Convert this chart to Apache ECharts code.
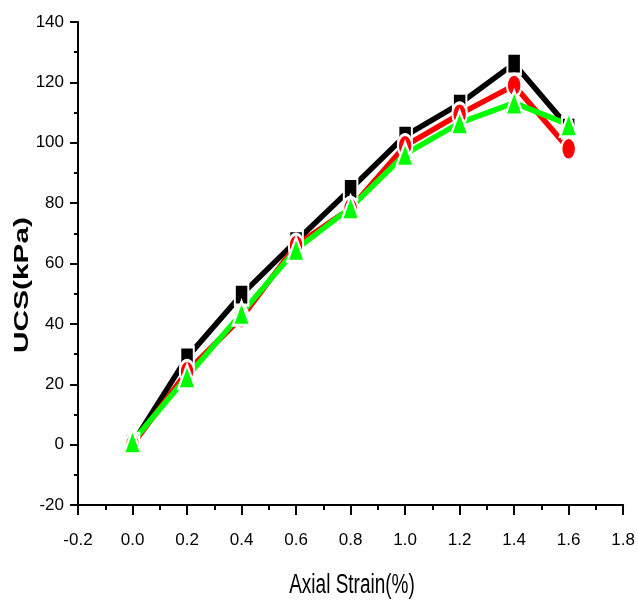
<!DOCTYPE html>
<html>
<head>
<meta charset="utf-8">
<style>
html,body{margin:0;padding:0;background:#fff;}
#chart{width:638px;height:602px;}
</style>
<script src="https://cdn.jsdelivr.net/npm/echarts@6/dist/echarts.min.js"></script>
</head>
<body>
<div id="chart"></div>
<script>
var strain = [0.0, 0.2, 0.4, 0.6, 0.8, 1.0, 1.2, 1.4, 1.6];
var seriesBlack = [0.3, 28.9, 49.7, 67.4, 84.7, 102.3, 112.9, 126.2, 105.0];
var seriesRed   = [0.0, 24.2, 42.1, 66.0, 78.3, 99.0, 109.5, 119.0, 98.0];
var seriesGreen = [1.0, 22.5, 43.5, 64.7, 78.5, 96.2, 106.6, 113.2, 106.0];
var xTicks = [-0.2, 0.0, 0.2, 0.4, 0.6, 0.8, 1.0, 1.2, 1.4, 1.6, 1.8];
var yTicks = [-20, 0, 20, 40, 60, 80, 100, 120, 140];
var xTitle = 'Axial Strain(%)';
var yTitle = 'UCS(kPa)';

function pairs(ys){ return strain.map(function(x,i){ return [x, ys[i]]; }); }

var tickFont = {color:'#000', fontFamily:'"Liberation Sans", Arial, sans-serif', fontSize:17};

function mkSeries(name, data, color, symbol, size){
  return {
    name:name, type:'line', data:pairs(data),
    symbol:symbol, symbolSize:size,
    lineStyle:{color:color, width:5.5},
    itemStyle:{color:color, borderColor:'#fff', borderWidth:2.5},
    animation:false, silent:true
  };
}

var chart = echarts.init(document.getElementById('chart'));
chart.setOption({
  backgroundColor:'#fff',
  animation:false,
  grid:{left:78, right:11, top:22, bottom:97},
  xAxis:{
    type:'value', min:xTicks[0], max:xTicks[xTicks.length-1], interval:0.2,
    axisLine:{show:true, onZero:false, lineStyle:{color:'#000', width:2}},
    axisTick:{show:true, inside:false, length:10, lineStyle:{color:'#000', width:2}},
    minorTick:{show:true, splitNumber:2, length:5, lineStyle:{color:'#000', width:2}},
    splitLine:{show:false},
    axisLabel:Object.assign({margin:27, formatter:function(v){return (Math.round(v*10)/10).toFixed(1);}}, tickFont)
  },
  yAxis:{
    type:'value', min:yTicks[0], max:yTicks[yTicks.length-1], interval:20,
    axisLine:{show:true, onZero:false, lineStyle:{color:'#000', width:2}},
    axisTick:{show:true, inside:false, length:8, lineStyle:{color:'#000', width:2}},
    minorTick:{show:true, splitNumber:2, length:4, lineStyle:{color:'#000', width:2}},
    splitLine:{show:false},
    axisLabel:Object.assign({margin:14}, tickFont)
  },
  graphic:[
    {type:'text', x:22, y:285, rotation:Math.PI/2, scaleX:1.42, scaleY:0.95,
     style:{text:yTitle, fill:'#000', font:'bold 21px "Liberation Sans", Arial, sans-serif', textAlign:'center', textVerticalAlign:'middle'}},
    {type:'text', x:352, y:585, scaleX:1, scaleY:1.45,
     style:{text:xTitle, fill:'#000', font:'19px "Liberation Sans", Arial, sans-serif', textAlign:'center', textVerticalAlign:'middle'}}
  ],
  series:[
    mkSeries('S1', seriesBlack, '#000000', 'rect', [13.5,21]),
    mkSeries('S2', seriesRed, '#ff0000', 'circle', [14.5,22.5]),
    mkSeries('S3', seriesGreen, '#00ff00', 'triangle', [17.5,24])
  ]
});
</script>
</body>
</html>
